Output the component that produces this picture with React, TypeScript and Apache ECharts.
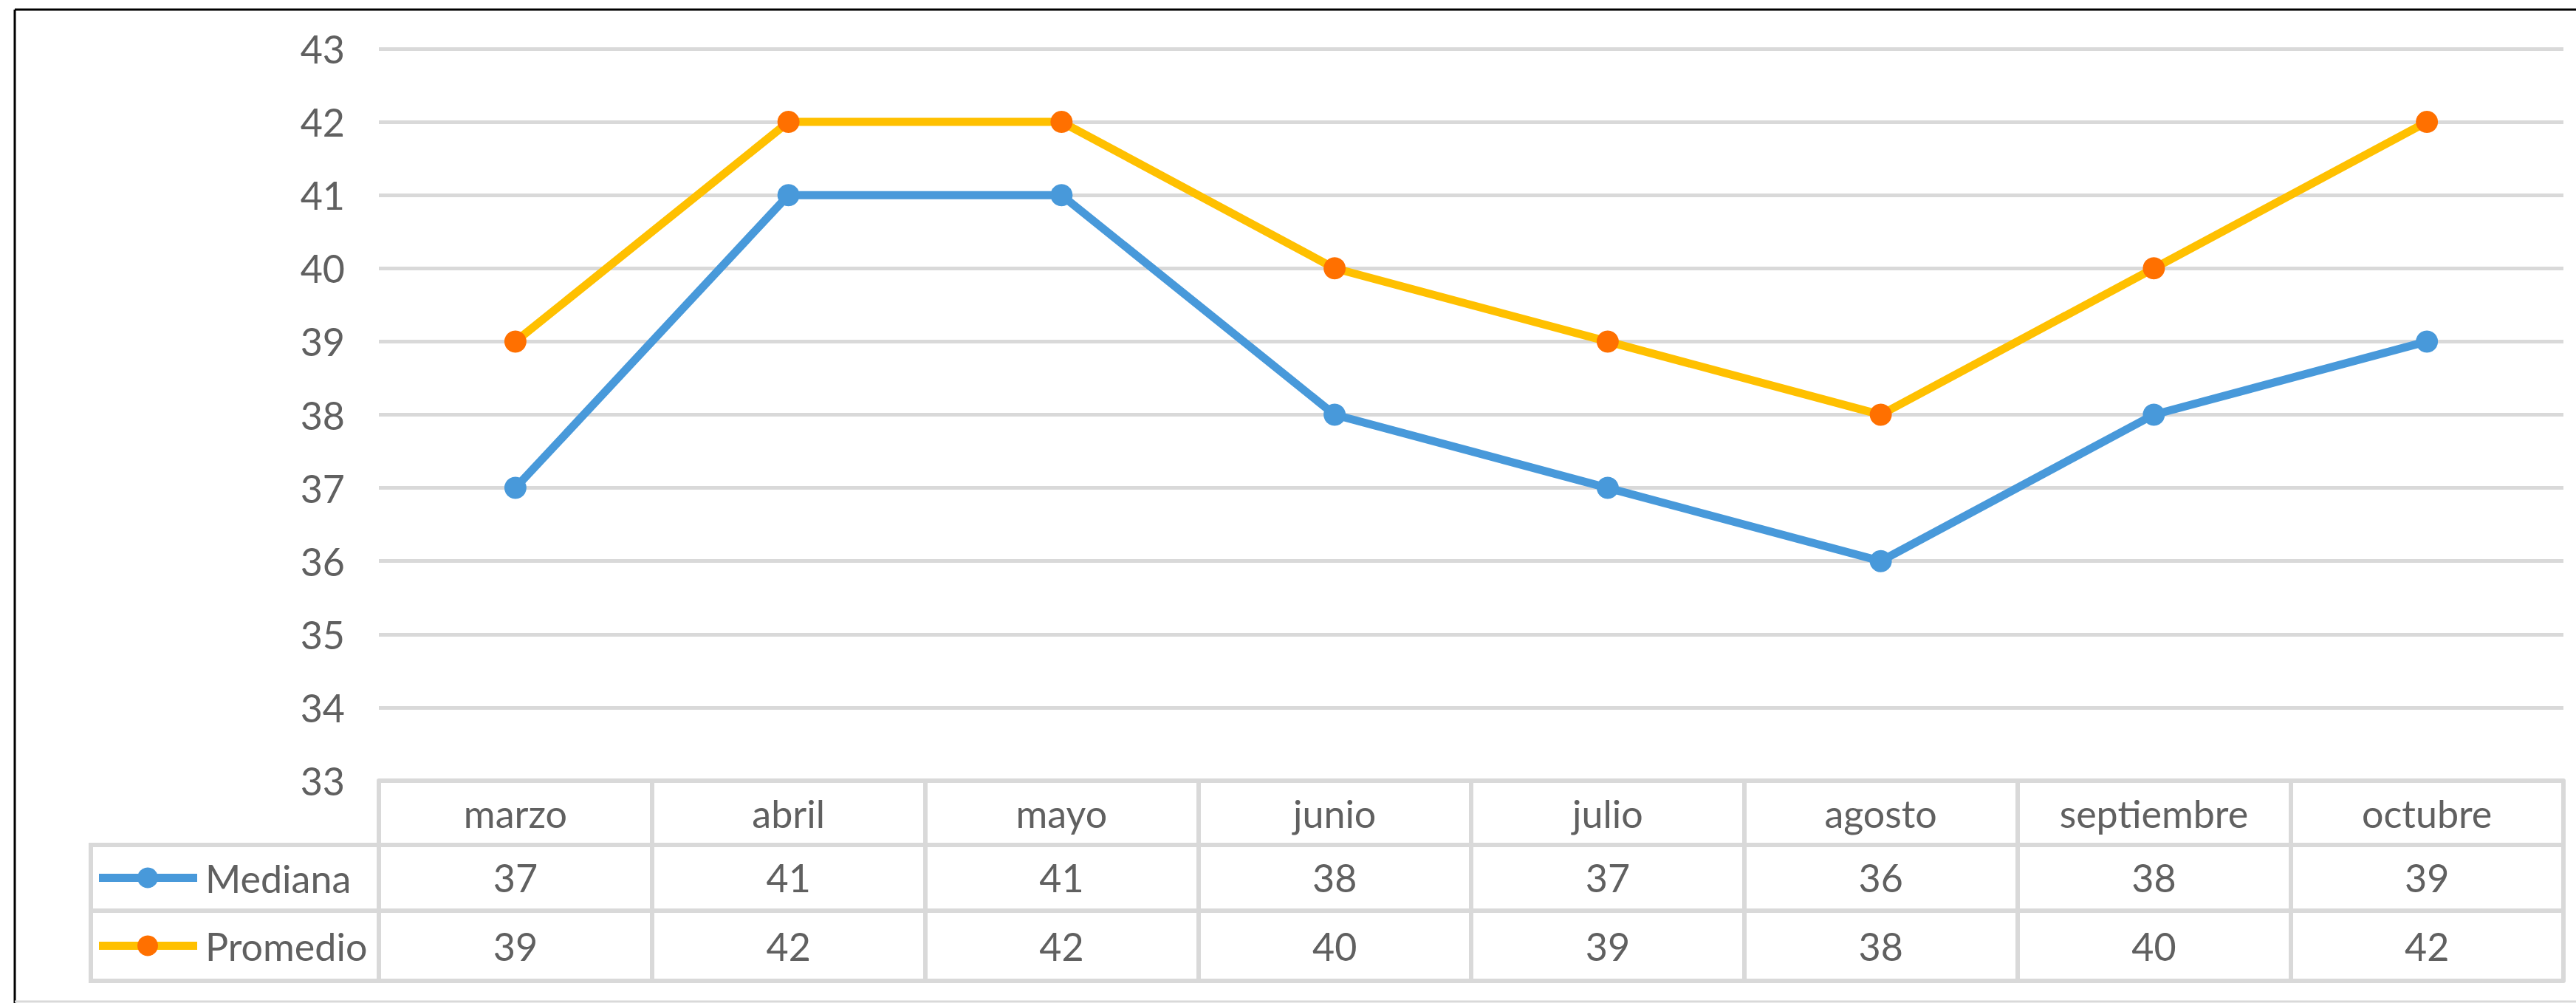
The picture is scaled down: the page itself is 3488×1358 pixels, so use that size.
import React, { useEffect, useRef } from "react";
import * as echarts from "echarts";

const months = ["marzo", "abril", "mayo", "junio", "julio", "agosto", "septiembre", "octubre"];
const mediana = [37, 41, 41, 38, 37, 36, 38, 39];
const promedio = [39, 42, 42, 40, 39, 38, 40, 42];
const seriesNames = ["Mediana", "Promedio"];
const yMin = 33;
const yMax = 43;

const FONT = "Lato";
const TEXT = "#606060";
const GRID = "#d9d9d9";
const BLUE = "#4899DA";
const YELLOW = "#FFC000";
const ORANGE = "#FF7000";

export default function App() {
  const ref = useRef<HTMLDivElement>(null);
  useEffect(() => {
    document.body.style.margin = "0";
    const chart = echarts.init(ref.current!, null, { renderer: "svg" });
    const W = 3488;
    const H = 1358;
    const gridLeft = 513;
    const gridTop = 66;
    const tableTop = 1057;
    const rowLines = [1057, 1144, 1233, 1328];

    const tableAxis = (data: string[], offset: number, tickLen: number, margin: number, showLabel = true, showTick = true) => ({
      type: "category",
      data,
      position: "bottom",
      offset,
      boundaryGap: true,
      axisLine: { show: true, lineStyle: { color: GRID, width: 6 } },
      axisTick: { show: showTick, alignWithLabel: false, interval: 0, length: tickLen, lineStyle: { color: GRID, width: 6 } },
      axisLabel: {
        show: showLabel,
        interval: 0,
        margin,
        verticalAlign: "middle",
        fontFamily: FONT,
        fontSize: 52,
        color: TEXT,
      },
      splitLine: { show: false },
    });

    const legendRows = [
      { name: seriesNames[0], y: (rowLines[1] + rowLines[2]) / 2, line: BLUE, dot: BLUE },
      { name: seriesNames[1], y: (rowLines[2] + rowLines[3]) / 2, line: YELLOW, dot: ORANGE },
    ];

    const graphics: any[] = [
      { type: "line", shape: { x1: 20, y1: 13, x2: W, y2: 13 }, style: { stroke: "#000", lineWidth: 3 } },
      { type: "line", shape: { x1: 20, y1: 13, x2: 20, y2: H }, style: { stroke: "#000", lineWidth: 3 } },
      { type: "line", shape: { x1: 20, y1: 1356, x2: W, y2: 1356 }, style: { stroke: GRID, lineWidth: 3 } },
      { type: "line", shape: { x1: 123, y1: rowLines[1], x2: gridLeft, y2: rowLines[1] }, style: { stroke: GRID, lineWidth: 6 } },
      { type: "line", shape: { x1: 123, y1: rowLines[2], x2: gridLeft, y2: rowLines[2] }, style: { stroke: GRID, lineWidth: 6 } },
      { type: "line", shape: { x1: 123, y1: rowLines[3], x2: gridLeft, y2: rowLines[3] }, style: { stroke: GRID, lineWidth: 6 } },
      { type: "line", shape: { x1: 123, y1: rowLines[1] - 3, x2: 123, y2: rowLines[3] + 3 }, style: { stroke: GRID, lineWidth: 6 } },
    ];
    legendRows.forEach((r) => {
      graphics.push(
        { type: "line", shape: { x1: 134, y1: r.y, x2: 267, y2: r.y }, style: { stroke: r.line, lineWidth: 11 } },
        { type: "circle", shape: { cx: 200, cy: r.y, r: 14 }, style: { fill: r.dot } },
        {
          type: "text",
          x: 278,
          y: r.y,
          style: { text: r.name, fill: TEXT, font: `52px ${FONT}`, textVerticalAlign: "middle", verticalAlign: "middle", align: "left" },
        }
      );
    });

    chart.setOption({
      animation: false,
      backgroundColor: "#fff",
      grid: { left: gridLeft, right: W - 3471, top: gridTop, bottom: H - tableTop, containLabel: false },
      xAxis: [
        tableAxis(months, 0, rowLines[1] - rowLines[0], 44),
        tableAxis(mediana.map(String), rowLines[1] - rowLines[0], rowLines[2] - rowLines[1], 44),
        tableAxis(promedio.map(String), rowLines[2] - rowLines[0], rowLines[3] - rowLines[2], 48),
        tableAxis(months, rowLines[3] - rowLines[0], 0, 0, false, false),
      ],
      yAxis: {
        type: "value",
        min: yMin,
        max: yMax,
        interval: 1,
        axisLine: { show: false },
        axisTick: { show: false },
        axisLabel: { margin: 46, fontFamily: FONT, fontSize: 52, color: TEXT },
        splitLine: { show: true, lineStyle: { color: GRID, width: 5 } },
      },
      series: [
        {
          name: seriesNames[0],
          type: "line",
          xAxisIndex: 0,
          data: mediana,
          symbol: "circle",
          symbolSize: 30,
          lineStyle: { color: BLUE, width: 11 },
          itemStyle: { color: BLUE },
        },
        {
          name: seriesNames[1],
          type: "line",
          xAxisIndex: 0,
          data: promedio,
          symbol: "circle",
          symbolSize: 30,
          lineStyle: { color: YELLOW, width: 11 },
          itemStyle: { color: ORANGE },
        },
      ],
      graphic: graphics,
    });
    return () => chart.dispose();
  }, []);
  return <div ref={ref} style={{ width: 3488, height: 1358 }} />;
}
